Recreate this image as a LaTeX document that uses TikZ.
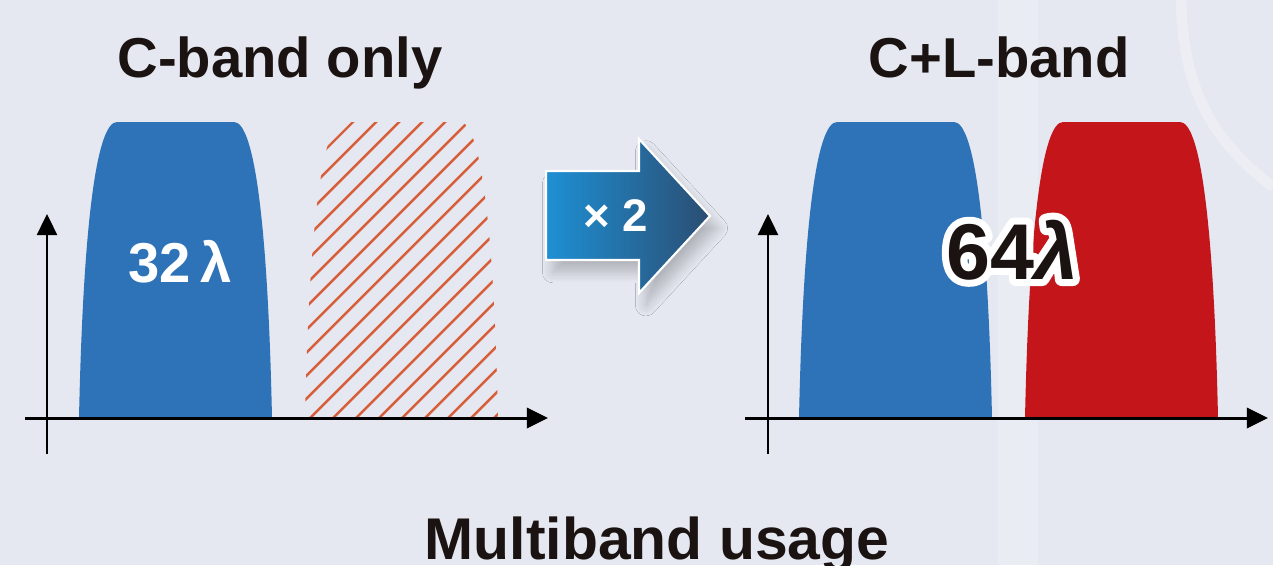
\documentclass[tikz,border=0pt]{standalone}
\usepackage{fontspec}
\setmainfont{Liberation Sans}
\usetikzlibrary{arrows.meta, shadows.blur}

\definecolor{bgcol}{HTML}{E5E8F0}
\definecolor{cblue}{HTML}{2E72B8}
\definecolor{lred}{HTML}{C3151A}
\definecolor{hatchcol}{HTML}{D85E3A}
\definecolor{arrowl}{HTML}{1E90D4}
\definecolor{arrowr}{HTML}{2B4D72}
\definecolor{inkcol}{HTML}{1A1311}

% band outline, #1 = left foot
\newcommand{\bandpath}[1]{(#1,418) .. controls (#1+4,230) and (#1+17,122) .. (#1+38,122)
    -- (#1+155,122) .. controls (#1+176,122) and (#1+189,230) .. (#1+193,418) -- cycle}
% white rim round a text
\newcommand{\rimtext}[1]{\special{pdf:literal direct 1 Tr 8 w 1 j 1 J 1 1 1 RG}#1\special{pdf:literal direct 0 Tr}}

\begin{document}
\begin{tikzpicture}[
    x=0.02cm, y=-0.02cm,
    bandtitle/.style={
        anchor=base,
        text=inkcol,
        font=\fontsize{32}{36}\selectfont\bfseries
    },
    count/.style={
        anchor=base,
        font=\fontsize{32}{36}\selectfont\bfseries
    },
    bignum/.style={
        anchor=base,
        text=inkcol,
        font=\fontsize{45}{50}\selectfont\bfseries
    },
    yaxis/.style={
        draw=black, line width=1.1pt,
        -{Triangle[length=12pt,width=11.5pt]}
    },
    xaxis/.style={
        draw=black, line width=1.7pt,
        -{Triangle[length=12pt,width=11.5pt]}
    },
    hatch/.style={
        draw=hatchcol, line width=1.4pt
    }
]

% Background
\useasboundingbox (0,0) rectangle (1273,565);
\fill[bgcol] (0,0) rectangle (1273,565);
\fill[white, opacity=0.2] (998,0) rectangle (1038,565);
\draw[white, opacity=0.3, line width=6pt] (1181,0) .. controls (1183,90) and (1212,140) .. (1273,187);

% Titles
\node[bandtitle] (ctitle) at (280,77) {C-band only};
\node[bandtitle] (cltitle) at (999,77) {C+L-band};

% C-band only
\fill[cblue] \bandpath{79};
\begin{scope}
    \clip \bandpath{305};
    \foreach \k in {-13,...,9}
        \draw[hatch] (306+23*\k,422) -- ++(320,-320);
\end{scope}
\node[count, text=white] (cnum) at (180,282) {32\,λ};

\coordinate (lybot) at (47,454);
\coordinate (lytop) at (47,214);
\coordinate (lxleft) at (25,418);
\coordinate (lxright) at (548,418);
\draw[yaxis] (lybot) -- (lytop);
\draw[xaxis] (lxleft) -- (lxright);

% x2 arrow
\path[left color=arrowl, right color=arrowr, draw=white, line width=1.2pt,
      blur shadow={shadow xshift=4pt, shadow yshift=-7pt, shadow opacity=22,
                   shadow blur radius=6pt, shadow blur steps=10}]
    (546,171) -- (639,171) -- (639,139) -- (710,216) -- (639,293) -- (639,260) -- (546,260) -- cycle;
\node[anchor=base, text=white, font=\fontsize{26}{30}\selectfont\bfseries] (times) at (616,231) {× 2};

% C+L-band
\fill[cblue] \bandpath{799};
\fill[lred] \bandpath{1025};
\node[bignum] (clrim) at (1012,279) {\rimtext{64\textit{λ}}};
\node[bignum] (clnum) at (1012,279) {64\textit{λ}};

\coordinate (rybot) at (768,454);
\coordinate (rytop) at (768,214);
\coordinate (rxleft) at (745,418);
\coordinate (rxright) at (1268,418);
\draw[yaxis] (rybot) -- (rytop);
\draw[xaxis] (rxleft) -- (rxright);

% Caption
\node[anchor=base, text=inkcol, font=\fontsize{33.5}{38}\selectfont\bfseries] (caption) at (657,559) {Multiband usage};

\end{tikzpicture}
\end{document}
